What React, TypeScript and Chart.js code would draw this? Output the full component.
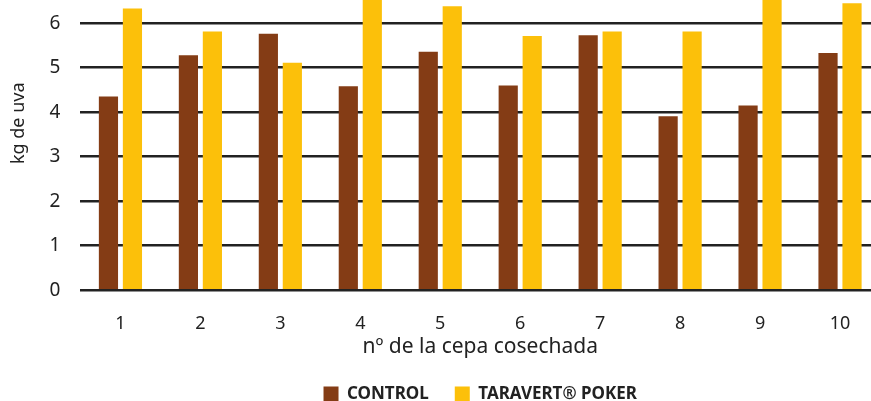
import React, { useEffect, useRef } from "react";
import { Chart, registerables } from "chart.js";

Chart.register(...registerables);

const categories = ["1", "2", "3", "4", "5", "6", "7", "8", "9", "10"];
const controlValues = [4.35, 5.28, 5.76, 4.58, 5.36, 4.6, 5.73, 3.91, 4.15, 5.33];
const taravertValues = [6.33, 5.81, 5.11, 6.9, 6.38, 5.71, 5.81, 5.81, 6.8, 6.45];
const seriesNames = ["CONTROL", "TARAVERT® POKER"];
const seriesColors = ["#843C15", "#FCC00A"];
const yTitle = "kg de uva";
const xTitle = "nº de la cepa cosechada";

const TEXT = "#222222";
const FONT = "'Noto Sans', 'Open Sans', sans-serif";
const CANVAS_TOP = -75;
const CANVAS_BOTTOM = 413;
const CANVAS_W = 880;
const CANVAS_H = CANVAS_BOTTOM - CANVAS_TOP;

export default function App() {
  const ref = useRef<HTMLCanvasElement | null>(null);

  useEffect(() => {
    if (!ref.current) return;
    const chart = new Chart(ref.current, {
      type: "bar",
      data: {
        labels: categories,
        datasets: [
          {
            label: seriesNames[0],
            data: controlValues,
            backgroundColor: seriesColors[0],
            borderWidth: 0,
            categoryPercentage: 0.6,
            barPercentage: 0.8,
          },
          {
            label: seriesNames[1],
            data: taravertValues,
            backgroundColor: seriesColors[1],
            borderWidth: 0,
            categoryPercentage: 0.6,
            barPercentage: 0.8,
          },
        ],
      },
      options: {
        responsive: false,
        animation: false,
        layout: { padding: { left: 3, right: 0, top: 0, bottom: 0 } },
        plugins: {
          legend: {
            position: "bottom",
            fullSize: false,
            labels: {
              boxWidth: 15,
              boxHeight: 16,
              padding: 26,
              color: TEXT,
              font: { family: FONT, size: 17, weight: "bold" },
            },
          },
          tooltip: { enabled: false },
        },
        scales: {
          x: {
            grid: { display: false },
            border: { display: false },
            ticks: {
              color: TEXT,
              font: { family: FONT, size: 18 },
              padding: 15,
              maxRotation: 0,
            },
            title: {
              display: true,
              text: xTitle,
              color: TEXT,
              font: { family: FONT, size: 21 },
              padding: { top: -15, bottom: 0 },
            },
          },
          y: {
            min: 0,
            max: 7.5,
            afterBuildTicks: (scale: any) => {
              scale.ticks = scale.ticks.filter((t: any) => Number.isInteger(t.value));
            },
            grid: {
              color: TEXT,
              lineWidth: 2.5,
              drawTicks: false,
            },
            border: { display: false },
            ticks: {
              stepSize: 1,
              color: TEXT,
              font: { family: FONT, size: 19 },
              padding: 20,
            },
            title: {
              display: true,
              text: yTitle,
              color: TEXT,
              font: { family: FONT, size: 18 },
              padding: { top: 5, bottom: 0 },
            },
          },
        },
      },
    });
    return () => chart.destroy();
  }, []);

  return (
    <div
      style={{
        position: "fixed",
        left: 0,
        top: 0,
        width: 871,
        height: 401,
        overflow: "hidden",
        background: "#fff",
      }}
    >
      <canvas
        ref={ref}
        width={CANVAS_W}
        height={CANVAS_H}
        style={{ position: "absolute", left: 0, top: CANVAS_TOP, display: "block" }}
      />
    </div>
  );
}
